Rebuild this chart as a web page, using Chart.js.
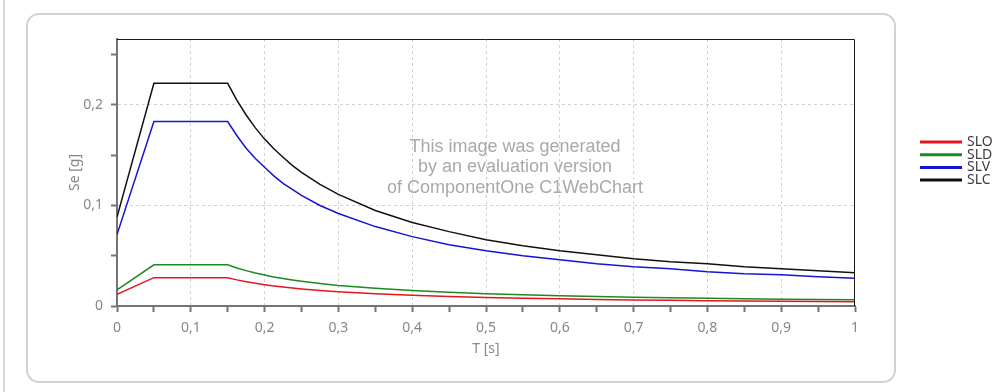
<!DOCTYPE html>
<html>
<head>
<meta charset="utf-8">
<script src="https://cdn.jsdelivr.net/npm/chart.js@4.4.1/dist/chart.umd.min.js"></script>
<style>
  html, body { margin: 0; padding: 0; background: #ffffff; }
  #wrap { position: relative; width: 999px; height: 392px; }
</style>
</head>
<body>
<div id="wrap"><canvas id="chart" width="999" height="392"></canvas></div>
<script>
'use strict';

// ── Data ──────────────────────────────────────────────────────
const periods = [0, 0.05, 0.15, 0.1625, 0.175, 0.1875, 0.2, 0.2125, 0.225, 0.2375, 0.25, 0.275, 0.3, 0.35, 0.4, 0.45, 0.5, 0.55, 0.6, 0.65, 0.7, 0.75, 0.8, 0.85, 0.9, 0.95, 1];

const seriesNames = ['SLO', 'SLD', 'SLV', 'SLC'];

const sloValues = [0.0115, 0.0282, 0.0282, 0.0260, 0.0242, 0.0226, 0.0212, 0.0199, 0.0188, 0.0178, 0.0169, 0.0154, 0.0141, 0.0121, 0.0106, 0.0094, 0.0085, 0.0077, 0.0071, 0.0065, 0.0060, 0.0056, 0.0053, 0.0050, 0.0047, 0.0045, 0.0042];
const sldValues = [0.0160, 0.0410, 0.0410, 0.0378, 0.0352, 0.0328, 0.0308, 0.0289, 0.0273, 0.0259, 0.0246, 0.0224, 0.0205, 0.0176, 0.0154, 0.0137, 0.0123, 0.0112, 0.0103, 0.0095, 0.0088, 0.0082, 0.0077, 0.0072, 0.0068, 0.0065, 0.0062];
const slvValues = [0.0710, 0.1835, 0.1835, 0.1694, 0.1570, 0.1468, 0.1380, 0.1295, 0.1220, 0.1159, 0.1100, 0.1000, 0.0920, 0.0790, 0.0690, 0.0610, 0.0550, 0.0500, 0.0460, 0.0420, 0.0390, 0.0370, 0.0340, 0.0320, 0.0310, 0.0290, 0.0275];
const slcValues = [0.0885, 0.2215, 0.2215, 0.2045, 0.1900, 0.1772, 0.1660, 0.1564, 0.1480, 0.1399, 0.1330, 0.1210, 0.1110, 0.0950, 0.0830, 0.0740, 0.0660, 0.0600, 0.0550, 0.0510, 0.0470, 0.0440, 0.0420, 0.0390, 0.0370, 0.0350, 0.0330];

const xTickLabels = ['0', '0,1', '0,2', '0,3', '0,4', '0,5', '0,6', '0,7', '0,8', '0,9', '1'];
const yTickLabels = ['0', '0,1', '0,2'];

const watermarkLines = ['This image was generated', 'by an evaluation version', 'of ComponentOne C1WebChart'];

const SERIES_COLORS = ['#e3161e', '#1c8a1c', '#1414d2', '#111111'];

// ── Helpers ───────────────────────────────────────────────────
const toPoints = vals => periods.map((t, i) => ({ x: t, y: vals[i] }));
const cents = v => Math.round(v * 100);
const isMajor = v => cents(v) % 10 === 0;

// ── Plugins ───────────────────────────────────────────────────
const decorPlugin = {
  id: 'decor',
  beforeDraw(chart) {
    const ctx = chart.ctx;
    ctx.save();
    // left page edge
    ctx.strokeStyle = '#d9d9d9';
    ctx.lineWidth = 2;
    ctx.beginPath(); ctx.moveTo(4, 0); ctx.lineTo(4, 392); ctx.stroke();
    // rounded frame
    ctx.strokeStyle = '#d2d2d2';
    ctx.beginPath();
    ctx.roundRect(27, 14, 868, 368, 12);
    ctx.stroke();
    ctx.restore();
  },
  beforeDatasetsDraw(chart) {
    const ctx = chart.ctx;
    ctx.save();
    ctx.fillStyle = '#a9a9a9';
    ctx.font = '18px "Liberation Sans", Arial, sans-serif';
    ctx.textAlign = 'center';
    ctx.textBaseline = 'middle';
    watermarkLines.forEach((line, i) => ctx.fillText(line, 515, 147 + i * 20.5));
    ctx.restore();
  },
  afterDraw(chart) {
    const { ctx, chartArea: a } = chart;
    ctx.save();
    // top / right plot border
    ctx.strokeStyle = '#1a1a1a';
    ctx.lineWidth = 1;
    ctx.beginPath();
    ctx.moveTo(a.left, a.top + 0.5);
    ctx.lineTo(a.right - 0.5, a.top + 0.5);
    ctx.lineTo(a.right - 0.5, a.bottom);
    ctx.stroke();

    // legend
    ctx.font = '14px "Noto Sans", sans-serif';
    ctx.textBaseline = 'middle';
    chart.data.datasets.forEach((ds, i) => {
      const y = 142 + i * 12.7;
      ctx.strokeStyle = ds.borderColor;
      ctx.lineWidth = 3;
      ctx.beginPath(); ctx.moveTo(920, y); ctx.lineTo(962, y); ctx.stroke();
      ctx.fillStyle = '#3c3c3c';
      ctx.fillText(ds.label, 967, y);
    });
    ctx.restore();
  }
};

// ── Chart ─────────────────────────────────────────────────────
const datasets = [sloValues, sldValues, slvValues, slcValues].map((vals, i) => ({
  label: seriesNames[i],
  data: toPoints(vals),
  borderColor: SERIES_COLORS[i],
  backgroundColor: SERIES_COLORS[i],
  borderWidth: 1.5,
  pointRadius: 0,
  tension: 0,
  fill: false
}));

const tickFont = { family: '"Noto Sans", sans-serif', size: 14 };
const AXIS_GRAY = '#747474';

new Chart(document.getElementById('chart'), {
  type: 'line',
  data: { datasets },
  options: {
    responsive: false,
    animation: false,
    events: [],
    layout: { padding: { top: 39, right: 144, bottom: 0, left: 0 } },
    plugins: { legend: { display: false }, tooltip: { enabled: false } },
    scales: {
      x: {
        type: 'linear',
        min: 0, max: 1,
        afterFit: s => { s.height = 86; },
        ticks: {
          stepSize: 0.05,
          includeBounds: false,
          autoSkip: false,
          maxRotation: 0,
          padding: 8,
          color: '#878787',
          font: tickFont,
          callback: v => isMajor(v) ? xTickLabels[cents(v) / 10] : ''
        },
        grid: {
          color: c => (isMajor(c.tick.value) && cents(c.tick.value) > 0 && cents(c.tick.value) < 100) ? '#d2d2d2' : 'rgba(0,0,0,0)',
          tickColor: AXIS_GRAY,
          tickWidth: 2,
          tickLength: 6,
          lineWidth: 1
        },
        border: { display: true, color: AXIS_GRAY, width: 2, dash: [3, 3] },
        title: {
          display: true, text: 'T [s]', color: '#878787',
          font: { family: '"Noto Sans", sans-serif', size: 14 },
          padding: { top: 0, bottom: 35 }
        }
      },
      y: {
        min: 0, max: 0.2656,
        afterFit: s => { s.width = 117; },
        ticks: {
          stepSize: 0.05,
          includeBounds: false,
          autoSkip: false,
          padding: 8,
          color: '#878787',
          font: tickFont,
          callback: v => isMajor(v) ? yTickLabels[cents(v) / 10] : ''
        },
        grid: {
          color: c => (isMajor(c.tick.value) && cents(c.tick.value) > 0) ? '#d2d2d2' : 'rgba(0,0,0,0)',
          tickColor: AXIS_GRAY,
          tickWidth: 2,
          tickLength: 6,
          lineWidth: 1
        },
        border: { display: true, color: AXIS_GRAY, width: 2, dash: [3, 3] },
        title: {
          display: true, text: 'Se [g]', color: '#878787',
          font: { family: '"Noto Sans", sans-serif', size: 14 },
          padding: { top: 67, bottom: 0 }
        }
      }
    }
  },
  plugins: [decorPlugin]
});
</script>
</body>
</html>
